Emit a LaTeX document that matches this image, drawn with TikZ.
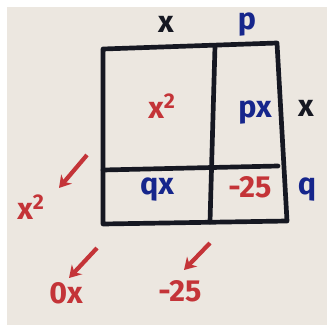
\documentclass[tikz,border=0pt]{standalone}
\usepackage{fontspec}
\setsansfont{Fira Sans}
\usetikzlibrary{arrows.meta}
\definecolor{paper}{RGB}{236,231,224}
\definecolor{marker}{RGB}{22,24,34}
\definecolor{redmark}{RGB}{196,52,56}
\definecolor{bluemark}{RGB}{22,38,140}

\begin{document}
\begin{tikzpicture}[x=0.03cm,y=-0.03cm,
    every node/.style={font=\sffamily\bfseries\fontsize{26}{26}\selectfont},
    grid/.style={marker,line width=4pt,line cap=round,line join=round},
    redtxt/.style={text=redmark},
    bluetxt/.style={text=bluemark},
    blacktxt/.style={text=marker},
    downarrow/.style={redmark,line width=3.6pt,-{Stealth[length=10pt,width=12pt]}}]
  % photo page
  \fill[white] (0,0) rectangle (327,332);
  \fill[paper] (7,7) rectangle (327,325);
  % box corners
  \coordinate (A) at (103,49);    % top left
  \coordinate (B) at (277,43);    % top right
  \coordinate (C) at (287,221);   % bottom right
  \coordinate (D) at (103,224);   % bottom left
  \coordinate (T) at (215,46);    % vertical divider, top
  \coordinate (U) at (210,222);   % vertical divider, bottom
  \coordinate (L) at (103,170);   % horizontal divider, left
  \coordinate (R) at (278,166);   % horizontal divider, right
  \draw[grid] (A)--(B)--(C)--(D)--cycle;
  \draw[grid] (T)--(U) (L)--(R);
  % factors
  \node[blacktxt] (topx) at (166,24) {x};
  \node[bluetxt] (topp) at (247,25) {p};
  \node[blacktxt] (sidex) at (306,108) {x};
  \node[bluetxt] (sideq) at (307,190) {q};
  % cells
  \node[redtxt] (xsq) at (162,106) {x\textsuperscript{2}};
  \node[bluetxt] (px) at (255,113) {px};
  \node[bluetxt] (qx) at (157,190) {qx};
  \node[redtxt] (const) at (250,187) {-25};
  % collected terms
  \node[redtxt] (sumsq) at (31,207) {x\textsuperscript{2}};
  \node[redtxt] (sumx) at (66,293) {0x};
  \node[redtxt] (sumc) at (180,291) {-25};
  \coordinate (a1) at (87,155);  \coordinate (b1) at (59,188);
  \coordinate (a2) at (97,248);  \coordinate (b2) at (69,278);
  \coordinate (a3) at (210,243); \coordinate (b3) at (184,270);
  \draw[downarrow] (a1)--(b1);
  \draw[downarrow] (a2)--(b2);
  \draw[downarrow] (a3)--(b3);
\end{tikzpicture}
\end{document}
